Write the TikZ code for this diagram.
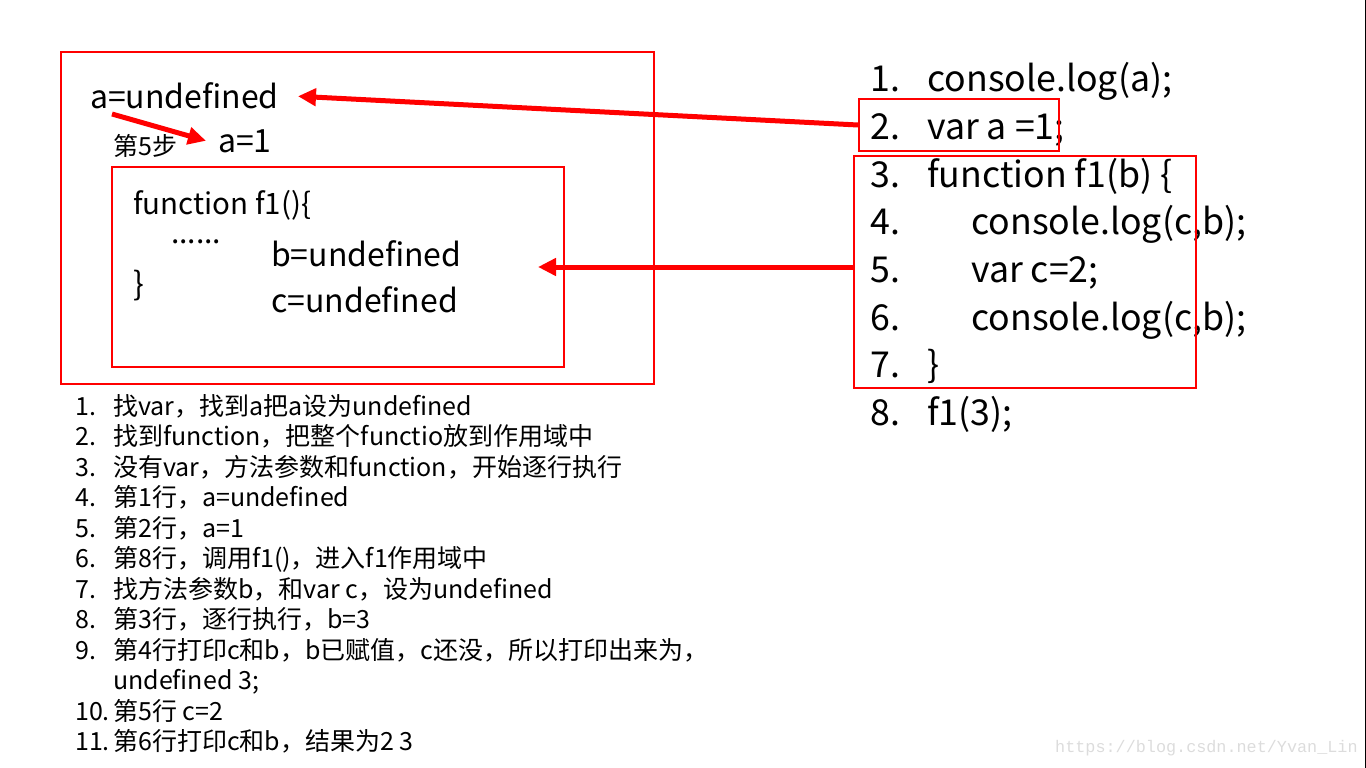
\documentclass[tikz,border=0pt]{standalone}
\usepackage{fontspec}
\setmainfont{Noto Sans CJK SC}
\setmonofont{Liberation Mono}
\usepackage{tikz}
\usetikzlibrary{arrows.meta,positioning}
\definecolor{boxred}{HTML}{FF0000}
\definecolor{markgray}{HTML}{DCDCDC}

\begin{document}
\begin{tikzpicture}[x=1pt,y=-1pt,
    redbox/.style={draw=boxred, line width=2pt, inner sep=0pt, anchor=north west},
    bigtext/.style={anchor=base west, inner sep=0pt, font=\fontsize{32}{38}\selectfont},
    codeline/.style={anchor=base west, inner sep=0pt, font=\fontsize{35.7}{43}\selectfont},
    listline/.style={anchor=base west, inner sep=0pt, font=\fontsize{25}{30}\selectfont},
    redarrow/.style={draw=boxred, line width=5pt, -{Triangle[length=18pt,width=17pt]}}]
  \useasboundingbox (0,0) rectangle (1366,768);
  \fill[black] (1365,0) rectangle (1366,768);
  % scope boxes
  \node[redbox, minimum width=593pt, minimum height=332pt] (globalbox) at (60,51) {};
  \node[redbox, minimum width=452pt, minimum height=200pt] (fnbox) at (111,166) {};
  \node[bigtext] (aundef) at (90,109) {a=undefined};
  \node[anchor=base west, inner sep=0pt, font=\fontsize{25}{30}\selectfont] (stepfive) at (113,155) {第5步};
  \node[bigtext] (aone) at (218,152) {a=1};
  \node[bigtext, font=\fontsize{29.5}{36}\selectfont] (fnhead) at (133,214) {function f1()\{};
  \node[bigtext, font=\fontsize{30}{36}\selectfont] (fndots) at (171,243) {......};
  \node[bigtext] (fnclose) at (133,295) {\}};
  \node[bigtext] (bundef) at (271,266) {b=undefined};
  \node[bigtext] (cundef) at (271,312) {c=undefined};
  % code
  \node[codeline] (num1) at (870,92) {1.};
  \node[codeline] (num2) at (870,139.6) {2.};
  \node[codeline] (num3) at (870,187.2) {3.};
  \node[codeline] (num4) at (870,234.8) {4.};
  \node[codeline] (num5) at (870,282.4) {5.};
  \node[codeline] (num6) at (870,330) {6.};
  \node[codeline] (num7) at (870,377.6) {7.};
  \node[codeline] (num8) at (870,425.2) {8.};
  \node[codeline] (code1) at (927,92) {console.log(a);};
  \node[codeline] (code2) at (927,139.6) {var a =1;};
  \node[codeline] (code3) at (927,187.2) {function f1(b) \{};
  \node[codeline] (code4) at (971,234.8) {console.log(c,b);};
  \node[codeline] (code5) at (971,282.4) {var c=2;};
  \node[codeline] (code6) at (971,330) {console.log(c,b);};
  \node[codeline] (code7) at (927,377.6) {\}};
  \node[codeline] (code8) at (927,425.2) {f1(3);};
  \node[redbox, minimum width=200pt, minimum height=52pt] (varbox) at (858,98) {};
  \node[redbox, minimum width=342pt, minimum height=232pt] (bodybox) at (853,155) {};
  % arrows
  \coordinate (fnslot) at (538,267);
  \draw[redarrow] (varbox.west) -- ([xshift=19pt]aundef.east);
  \draw[redarrow] (bodybox.west |- fnslot) -- (fnslot);
  \draw[redarrow] ([xshift=22pt,yshift=-5pt]aundef.base west) -- ([xshift=-12pt]aone.west);
  % steps
  \node[listline] (n1) at (75,415) {1.};
  \node[listline] (n2) at (75,445.5) {2.};
  \node[listline] (n3) at (75,476) {3.};
  \node[listline] (n4) at (75,506.5) {4.};
  \node[listline] (n5) at (75,537) {5.};
  \node[listline] (n6) at (75,567.5) {6.};
  \node[listline] (n7) at (75,598) {7.};
  \node[listline] (n8) at (75,628.5) {8.};
  \node[listline] (n9) at (75,659) {9.};
  \node[listline] (n10) at (75,720) {10.};
  \node[listline] (n11) at (75,750.5) {11.};
  \node[listline] (s1) at (113,415) {找var，找到a把a设为undefined};
  \node[listline] (s2) at (113,445.5) {找到function，把整个functio放到作用域中};
  \node[listline] (s3) at (113,476) {没有var，方法参数和function，开始逐行执行};
  \node[listline] (s4) at (113,506.5) {第1行，a=undefined};
  \node[listline] (s5) at (113,537) {第2行，a=1};
  \node[listline] (s6) at (113,567.5) {第8行，调用f1()，进入f1作用域中};
  \node[listline] (s7) at (113,598) {找方法参数b，和var c，设为undefined};
  \node[listline] (s8) at (113,628.5) {第3行，逐行执行，b=3};
  \node[listline] (s9) at (113,659) {第4行打印c和b，b已赋值，c还没，所以打印出来为，};
  \node[listline] (s9b) at (113,689.5) {undefined 3;};
  \node[listline] (s10) at (113,720) {第5行 c=2};
  \node[listline] (s11) at (113,750.5) {第6行打印c和b，结果为2 3};
  \node[anchor=base west, inner sep=0pt, font=\ttfamily\fontsize{16.8}{20}\selectfont, text=markgray] (mark) at (1055,752) {https://blog.csdn.net/Yvan\_Lin};
\end{tikzpicture}
\end{document}
